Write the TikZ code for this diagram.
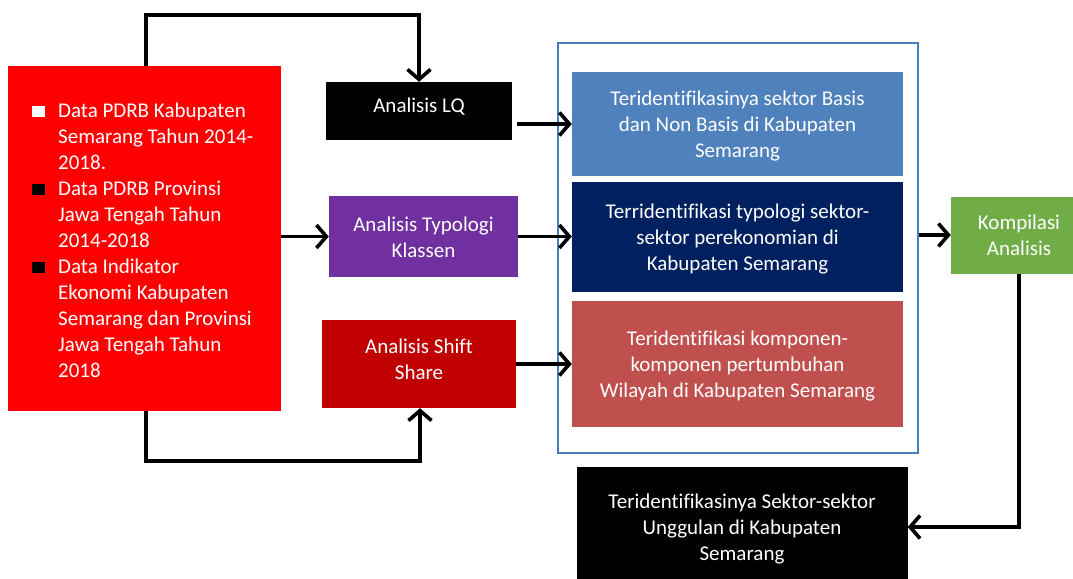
\documentclass[tikz,border=0pt]{standalone}
\usepackage{fontspec}
\setmainfont{Carlito}[Ligatures={NoCommon}]
\usetikzlibrary{arrows.meta,calc}
\definecolor{cRed}{HTML}{FF0000}
\definecolor{cDarkRed}{HTML}{C00000}
\definecolor{cPurple}{HTML}{7030A0}
\definecolor{cBlue}{HTML}{4F81BD}
\definecolor{cNavy}{HTML}{002060}
\definecolor{cBrick}{HTML}{C0504D}
\definecolor{cGreen}{HTML}{70AD47}
\definecolor{cFrame}{HTML}{4A7EBB}
\newcommand\lift[2]{\raisebox{0pt}[\dimexpr\height+5pt\relax][\dimexpr\depth+#1\relax]{\begin{tabular}{@{}c@{}}#2\end{tabular}}}
\newcommand\sqbullet[1]{\textcolor{#1}{\raisebox{0.5pt}{\rule{12.5pt}{10.5pt}}}}
\begin{document}
\begin{tikzpicture}[x=1pt,y=-1pt,
  box/.style={fill=#1, draw=none, text=white, inner sep=0pt,
    font=\fontsize{21}{26}\selectfont},
  conn/.style={line width=3.6pt, -{Straight Barb[length=10pt,width=23pt]}}
]
\clip (0,0) rectangle (1073,578);
\fill[white] (0,0) rectangle (1073,578);

% container
\node[draw=cFrame, line width=2pt, fill=white, minimum width=360pt, minimum height=410pt, inner sep=0pt] (frame) at (737.5,248) {};

% left data box
\node[box=cRed, minimum width=273pt, minimum height=344pt] (data) at (144.5,238.5) {};
\node[anchor=north west, inner sep=0pt, text=white, font=\fontsize{21}{26}\selectfont] (datatext) at (32,99) {%
\begin{tabular}{@{}l@{\hspace{13.5pt}}l@{}}
\sqbullet{white} & Data PDRB Kabupaten\\
 & Semarang Tahun 2014-\\
 & 2018.\\
\sqbullet{black} & Data PDRB Provinsi\\
 & Jawa Tengah Tahun\\
 & 2014-2018\\
\sqbullet{black} & Data Indikator\\
 & Ekonomi Kabupaten\\
 & Semarang dan Provinsi\\
 & Jawa Tengah Tahun\\
 & 2018
\end{tabular}};

% analysis boxes
\node[box=black, minimum width=186pt, minimum height=58pt] (lq) at (419,111) {\lift{12pt}{Analisis LQ}};
\node[box=cPurple, minimum width=189pt, minimum height=81pt] (typ) at (423.5,236.5) {\lift{0pt}{Analisis Typologi\\Klassen}};
\node[box=cDarkRed, minimum width=194pt, minimum height=88pt] (shift) at (419,364) {\lift{10pt}{Analisis Shift\\Share}};

% result boxes
\node[box=cBlue, minimum width=331pt, minimum height=104pt] (res1) at (737.5,124) {\lift{0pt}{Teridentifikasinya sektor Basis\\dan Non Basis di Kabupaten\\Semarang}};
\node[box=cNavy, minimum width=331pt, minimum height=110pt] (res2) at (737.5,237) {\lift{0pt}{Terridentifikasi typologi sektor-\\sektor perekonomian di\\Kabupaten Semarang}};
\node[box=cBrick, minimum width=331pt, minimum height=126pt] (res3) at (737.5,364) {\lift{0pt}{Teridentifikasi komponen-\\komponen pertumbuhan\\Wilayah di Kabupaten Semarang}};

\node[box=cGreen, minimum width=136pt, minimum height=77pt] (komp) at (1019,235) {\lift{0pt}{Kompilasi\\Analisis}};
\node[box=black, minimum width=331pt, minimum height=120pt] (final) at (742,527) {\lift{0pt}{Teridentifikasinya Sektor-sektor\\Unggulan di Kabupaten\\Semarang}};

% connectors
\coordinate (topbend) at (146,15);
\coordinate (botbend) at (146,461);
\draw[conn] (data.north -| topbend) -- (topbend) -| (lq.north);
\draw[conn] (data.south -| botbend) -- (botbend) -| ([xshift=1pt]shift.south);
\draw[conn] ([xshift=5pt]lq.east |- res1.west) -- (res1.west);
\draw[conn] (data.east |- typ.west) -- (typ.west);
\draw[conn] (typ.east) -- (typ.east -| res2.west);
\draw[conn] (shift.east) -- (shift.east -| res3.west);
\draw[conn] (frame.east |- komp.west) -- (komp.west);
\draw[conn] (komp.south) |- (final.east);
\end{tikzpicture}
\end{document}
